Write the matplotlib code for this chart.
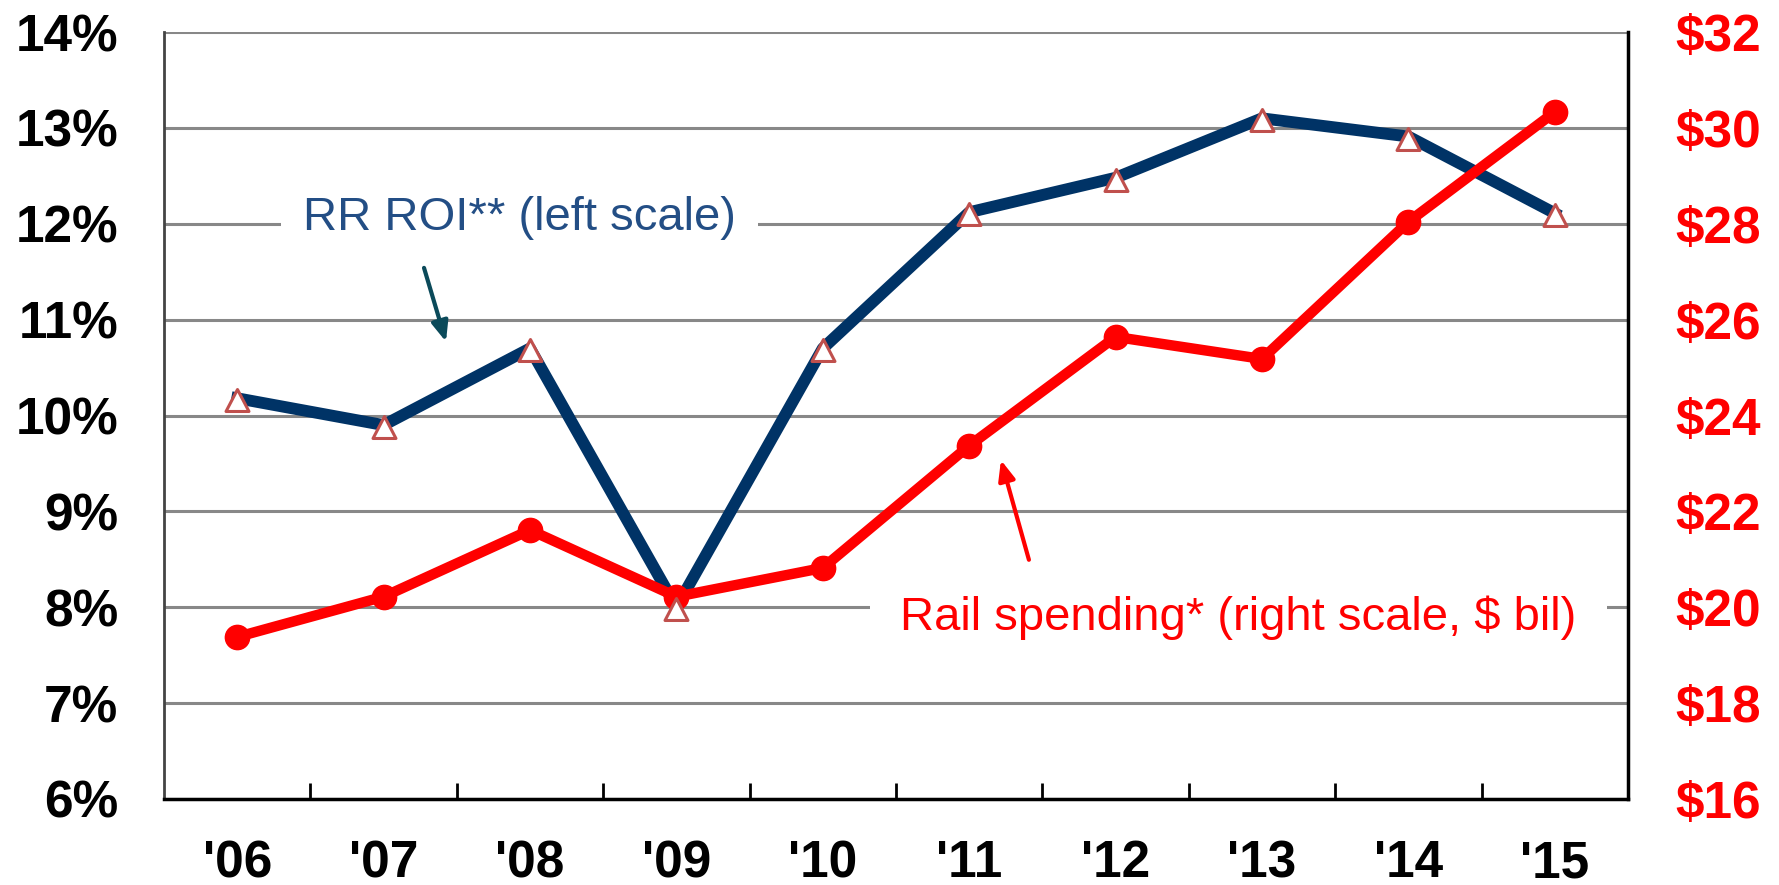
import matplotlib
matplotlib.use("Agg")
import matplotlib.pyplot as plt
from matplotlib.path import Path
from matplotlib.ticker import FixedLocator

plt.rcParams['font.family'] = ['Liberation Sans', 'DejaVu Sans']

# --- data ---
years = ["'06", "'07", "'08", "'09", "'10", "'11", "'12", "'13", "'14", "'15"]
rr_roi = [10.18, 9.90, 10.70, 8.00, 10.70, 12.12, 12.48, 13.10, 12.91, 12.11]   # %
rail_spending = [19.38, 20.22, 21.61, 20.22, 20.82, 23.37, 25.64, 25.18, 28.04, 30.33]  # $ bil

left_ticks = [6, 7, 8, 9, 10, 11, 12, 13, 14]
right_ticks = [16, 18, 20, 22, 24, 26, 28, 30, 32]

NAVY = '#003366'
RED = '#ff0000'
TRI_EDGE = '#c0504d'

# triangle marker with the point near its top, like the Excel original
tri = Path([(0, 9), (-11.5, -13), (11.5, -13), (0, 9)],
           [Path.MOVETO, Path.LINETO, Path.LINETO, Path.CLOSEPOLY])

fig = plt.figure(figsize=(17.79, 8.85), dpi=100)
ax1 = fig.add_axes([0.0922, 0.0972, 0.8229, 0.8666])
ax2 = ax1.twinx()

x = list(range(len(years)))

# RR ROI line (left scale)
ax1.plot(x, rr_roi, color=NAVY, lw=8.5, zorder=3)

# Rail spending (right scale)
ax2.plot(x, rail_spending, color=RED, lw=7.5, marker='o', markersize=17.5,
         zorder=3)
# triangles drawn on top of both lines, in left-axis coordinates
ax2.plot(x, rr_roi, linestyle='none', marker=tri, markersize=18.7,
         markerfacecolor='white', markeredgecolor=TRI_EDGE,
         markeredgewidth=2.2, transform=ax1.transData, zorder=4)

ax1.set_xlim(-0.5, len(years) - 0.5)
ax1.set_ylim(6, 14)
ax2.set_ylim(16, 32)

ax1.set_yticks(left_ticks)
ax1.set_yticklabels([f'{v}%' for v in left_ticks])
ax2.set_yticks(right_ticks)
ax2.set_yticklabels([f'${v}' for v in right_ticks])

ax1.set_xticks(x)
ax1.set_xticklabels(years)
ax1.xaxis.set_minor_locator(FixedLocator([i + 0.5 for i in range(len(years) - 1)]))

ax1.tick_params(axis='x', which='major', length=0, pad=29)
ax1.tick_params(axis='x', which='minor', direction='in', length=11.5, width=2, color='black')
ax1.tick_params(axis='y', length=0, pad=33)
ax2.tick_params(axis='y', length=0, pad=34, colors=RED)

for lab in ax1.get_xticklabels() + ax1.get_yticklabels():
    lab.set_fontsize(37)
    lab.set_fontweight('bold')
for lab in ax2.get_yticklabels():
    lab.set_fontsize(37)
    lab.set_fontweight('bold')
    lab.set_color(RED)

ax1.yaxis.grid(True, color='#888888', lw=2.2, zorder=0)
ax1.set_axisbelow(True)

for ax in (ax1, ax2):
    ax.spines['top'].set_visible(False)
ax1.spines['left'].set_color('#444444')
ax1.spines['left'].set_linewidth(2)
ax1.spines['bottom'].set_color('black')
ax1.spines['bottom'].set_linewidth(2.5)
ax2.spines['left'].set_visible(False)
ax2.spines['bottom'].set_visible(False)
ax2.spines['right'].set_color('black')
ax2.spines['right'].set_linewidth(2.5)

# labels with arrows
ax1.text(1.93, 11.935, 'RR ROI** (left scale)', fontsize=34, color='#234e85',
         ha='center', va='baseline', zorder=2,
         bbox=dict(facecolor='white', edgecolor='none', pad=16))
ax1.annotate('', xy=(1.426, 10.77), xytext=(1.276, 11.54),
             arrowprops=dict(arrowstyle='-|>,head_length=1.2,head_width=0.5',
                             color='#0b4a5a', lw=3, shrinkA=0, shrinkB=0))

ax2.text(6.84, 19.53, 'Rail spending* (right scale, $ bil)', fontsize=34, color=RED,
         ha='center', va='baseline', zorder=2,
         bbox=dict(facecolor='white', edgecolor='none', pad=22))
ax2.annotate('', xy=(5.217, 23.07), xytext=(5.408, 20.99),
             arrowprops=dict(arrowstyle='-|>,head_length=1.2,head_width=0.5',
                             color=RED, lw=3, shrinkA=0, shrinkB=0))

fig.savefig('out.png', dpi=100)
